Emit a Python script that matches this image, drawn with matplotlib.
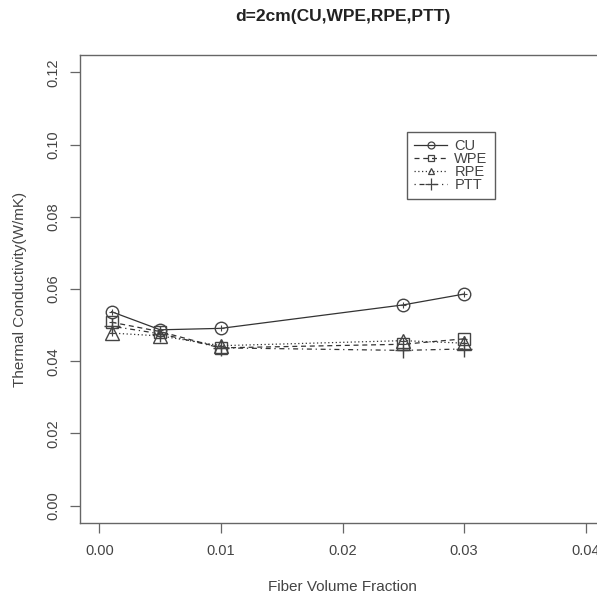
import matplotlib.pyplot as plt
from matplotlib.lines import Line2D

# Data
fraction = [0.001, 0.005, 0.01, 0.025, 0.03]
cu = [0.0537, 0.0487, 0.0491, 0.0556, 0.0586]
wpe = [0.0508, 0.0482, 0.0437, 0.0447, 0.0462]
rpe = [0.0478, 0.0470, 0.0443, 0.0457, 0.0450]
ptt = [0.0497, 0.0476, 0.0437, 0.0430, 0.0434]
series_names = ["CU", "WPE", "RPE", "PTT"]

x_ticks = [0.00, 0.01, 0.02, 0.03, 0.04]
y_ticks = [0.00, 0.02, 0.04, 0.06, 0.08, 0.10, 0.12]

# Style
C_LINE = "#333333"
C_TEXT = "#444444"
C_AXIS = "#666666"
plt.rcParams['font.family'] = ['Liberation Sans', 'DejaVu Sans']

fig = plt.figure(figsize=(5.97, 5.98), dpi=100)
# axes box runs past the right edge of the figure, like the reference crop
ax = fig.add_axes([80 / 597, 75 / 598, 525 / 597, 468 / 598])

styles = [
    (cu, 'o', '-', 9),
    (wpe, 's', (0, (4, 3)), 8.5),
    (rpe, '^', (0, (1, 2)), 9.5),
    (ptt, '+', (0, (1, 3, 4, 3)), 12),
]
for vals, mk, ls, ms in styles:
    ax.plot(fraction, vals, color=C_LINE, linestyle=ls, linewidth=0.9,
            marker=mk, markersize=ms, markerfacecolor='none',
            markeredgecolor='#444444', markeredgewidth=1.0)
    # inner cross seen inside the markers
    ax.plot(fraction, vals, linestyle='none', marker='+', markersize=ms * 0.5,
            markeredgecolor='#444444', markeredgewidth=0.8)

ax.set_xlim(-0.0016, 0.0416)
ax.set_ylim(-0.0048, 0.1248)
ax.set_xticks(x_ticks)
ax.set_xticklabels([f"{v:.2f}" for v in x_ticks])
ax.set_yticks(y_ticks)
ax.set_yticklabels([f"{v:.2f}" for v in y_ticks], rotation=90, va='center')

ax.tick_params(axis='both', direction='out', length=7, width=0.9,
               color=C_AXIS, labelcolor=C_TEXT, labelsize=10.5)
ax.tick_params(axis='x', pad=8)
ax.tick_params(axis='y', pad=7)
for sp in ax.spines.values():
    sp.set_color(C_AXIS)
    sp.set_linewidth(1.0)

ax.set_xlabel("Fiber Volume Fraction", fontsize=11, color=C_TEXT, labelpad=16)
ax.set_ylabel("Thermal Conductivity(W/mK)", fontsize=11, color=C_TEXT, labelpad=14)
fig.text(343 / 597, 1 - 17 / 598, "d=2cm(CU,WPE,RPE,PTT)", ha='center', va='center',
         fontsize=12.5, fontweight='bold', color='#222222')

# Legend
handles = []
for (vals, mk, ls, ms), name in zip(styles, series_names):
    handles.append(Line2D([], [], color=C_LINE, linestyle=ls, linewidth=0.9,
                          marker=mk, markersize=5 if mk != '+' else 8,
                          markerfacecolor='none', markeredgecolor='#444444',
                          markeredgewidth=0.9, label=name))
leg = fig.legend(handles=handles, loc='upper left',
                 bbox_to_anchor=(407 / 597, 1 - 132 / 598),
                 fontsize=10.5, frameon=True, fancybox=False, handlelength=2.25,
                 handletextpad=0.5, labelspacing=-0.08, borderpad=0.5,
                 borderaxespad=0)
leg.get_frame().set_edgecolor('#333333')
leg.get_frame().set_linewidth(1.0)
for t in leg.get_texts():
    t.set_color(C_TEXT)

fig.savefig("out.png", dpi=100)
